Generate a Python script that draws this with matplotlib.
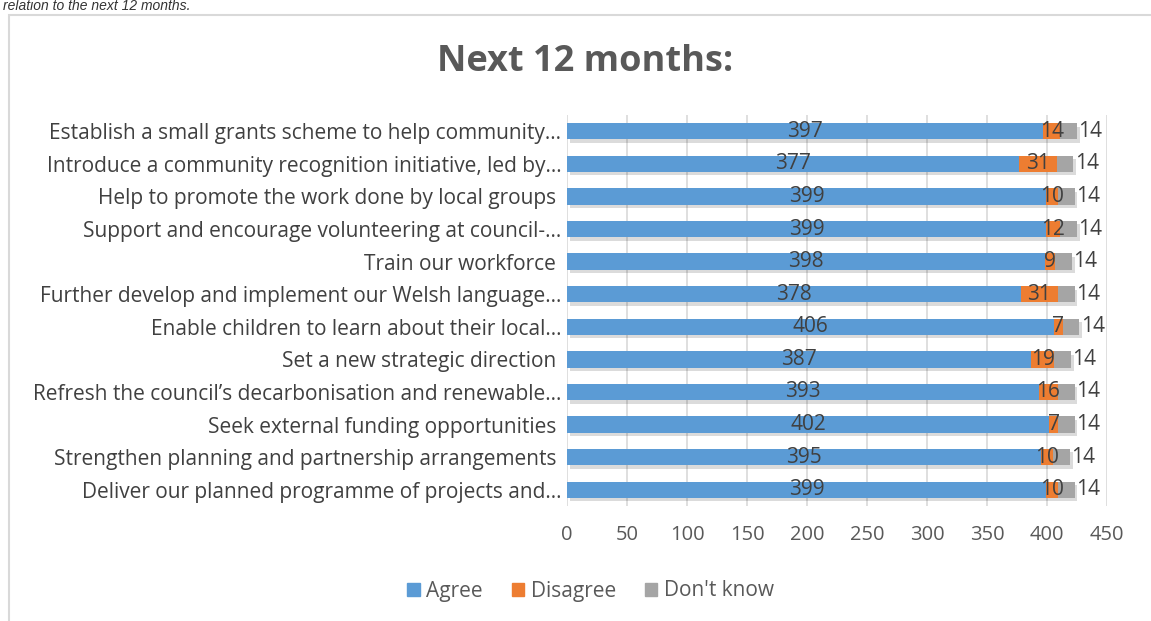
import matplotlib.pyplot as plt
import matplotlib.patheffects as pe
from matplotlib.patches import Rectangle, Patch

plt.rcParams['font.family'] = ['Open Sans', 'DejaVu Sans']

# data, top row first as in the chart
categories = [
    'Establish a small grants scheme to help community…',
    'Introduce a community recognition initiative, led by…',
    'Help to promote the work done by local groups ',
    'Support and encourage volunteering at council-…',
    'Train our workforce ',
    'Further develop and implement our Welsh language…',
    'Enable children to learn about their local…',
    'Set a new strategic direction ',
    'Refresh the council’s decarbonisation and renewable…',
    'Seek external funding opportunities ',
    'Strengthen planning and partnership arrangements ',
    'Deliver our planned programme of projects and…',
]
agree = [397, 377, 399, 399, 398, 378, 406, 387, 393, 402, 395, 399]
disagree = [14, 31, 10, 12, 9, 31, 7, 19, 16, 7, 10, 10]
dont_know = [14, 14, 14, 14, 14, 14, 14, 14, 14, 14, 14, 14]
xticks = [0, 50, 100, 150, 200, 250, 300, 350, 400, 450]

c_agree = '#5B9BD5'
c_dis = '#ED7D31'
c_dk = '#A5A5A5'
txt = '#404040'

fig = plt.figure(figsize=(11.51, 6.21), dpi=100)

# caption above the chart frame
fig.text(0.003, 1 - 10 / 621, 'relation to the next 12 months.', fontsize=10,
         style='italic', family='Liberation Sans', color='#333333', va='baseline')

# chart frame
fig.patches.append(Rectangle((9 / 1151, -0.01), 1.2, 1 - 15 / 621 + 0.01,
                             transform=fig.transFigure, fill=False,
                             edgecolor='#D9D9D9', lw=1.5))

ax = fig.add_axes([567 / 1151, 1 - 506 / 621, 540 / 1151, 391 / 621])

y = list(range(len(categories)))
shadow = [pe.SimplePatchShadow(offset=(2, -2.5), shadow_rgbFace='#000000', alpha=0.14), pe.Normal()]

left2 = [a for a in agree]
left3 = [a + d for a, d in zip(agree, disagree)]
b1 = ax.barh(y, agree, height=0.5, color=c_agree, zorder=3)
b2 = ax.barh(y, disagree, left=left2, height=0.5, color=c_dis, zorder=3)
b3 = ax.barh(y, dont_know, left=left3, height=0.5, color=c_dk, zorder=3)
for bars in (b1, b2, b3):
    for p in bars:
        p.set_path_effects(shadow)

for i in y:
    ax.text(agree[i] / 2, i, str(agree[i]), ha='center', va='center',
            fontsize=15, color=txt, zorder=5)
    ax.text(agree[i] + disagree[i] / 2, i, str(disagree[i]), ha='center', va='center',
            fontsize=15, color=txt, zorder=5)
    ax.text(left3[i] + dont_know[i] + 1, i, str(dont_know[i]), ha='left', va='center',
            fontsize=15, color=txt, zorder=5)

ax.set_xlim(0, 450)
ax.set_ylim(len(categories) - 0.5, -0.5)
ax.set_xticks(xticks)
ax.set_yticks(y)
ax.set_yticklabels(categories, fontsize=15, color=txt)
ax.tick_params(axis='x', labelsize=14.5, labelcolor='#595959', length=0, pad=14)
ax.tick_params(axis='y', length=0, pad=4)
ax.grid(axis='x', color='#D9D9D9', lw=1.2, zorder=0)
for s in ax.spines.values():
    s.set_visible(False)

fig.text(0.508, 1 - 62 / 621, 'Next 12 months:', fontsize=26, fontweight='bold',
         color='#595959', ha='center', va='center')

handles = [Patch(color=c_agree), Patch(color=c_dis), Patch(color=c_dk)]
fig.legend(handles, ['Agree', 'Disagree', "Don't know"], loc='center',
           bbox_to_anchor=(0.513, 1 - 591 / 621), ncol=3, frameon=False,
           fontsize=15, labelcolor='#595959', handlelength=0.6, handleheight=0.6,
           handletextpad=0.3, columnspacing=1.4)

fig.savefig('out.png', dpi=100)
